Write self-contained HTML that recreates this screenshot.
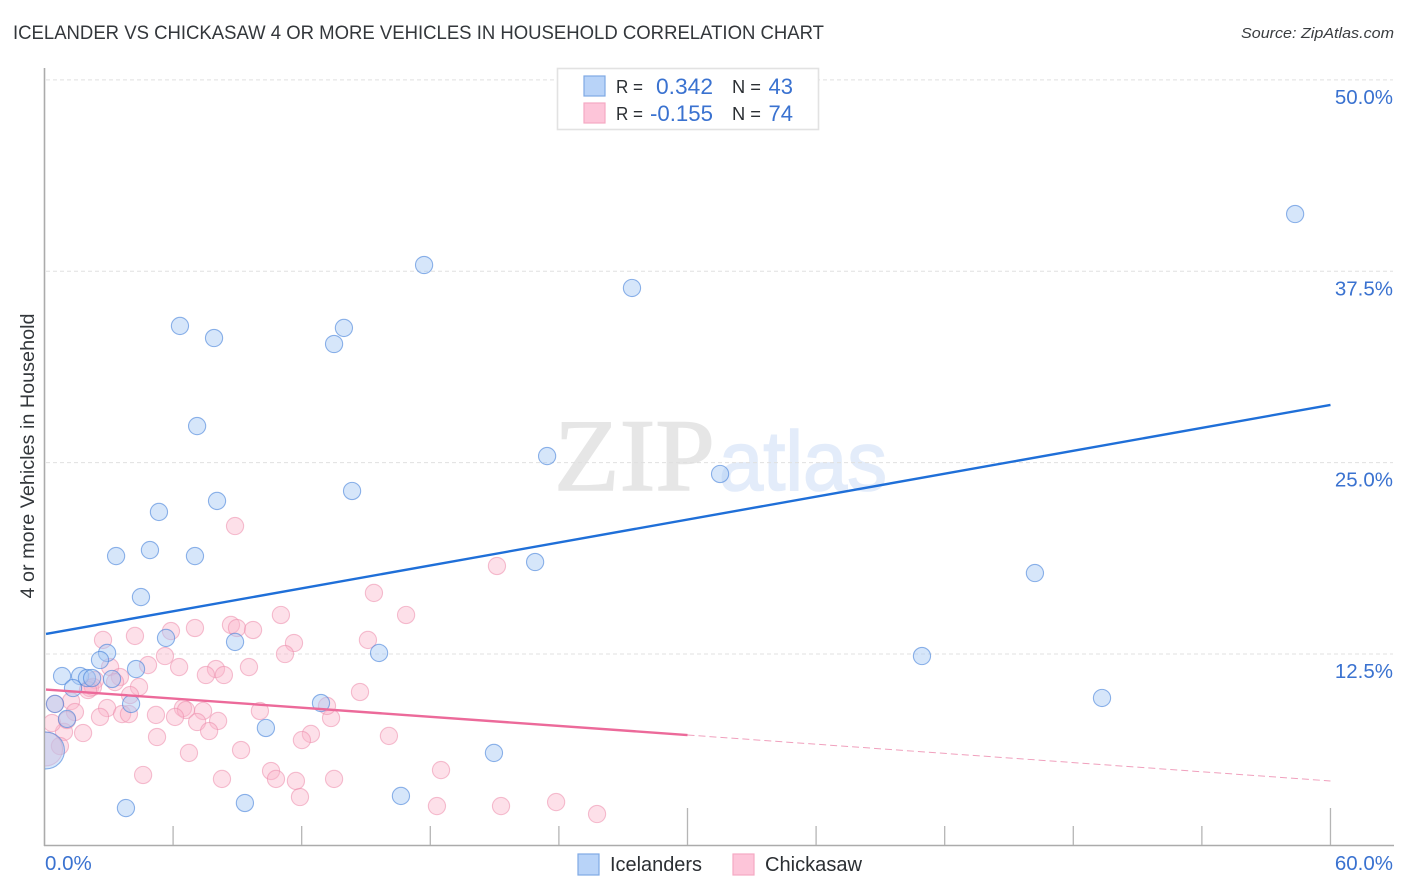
<!DOCTYPE html>
<html lang="en">
<head>
<meta charset="utf-8">
<title>Icelander vs Chickasaw 4 or More Vehicles in Household Correlation Chart</title>
<style>
html,body{margin:0;padding:0;background:#fff;}
body{width:1406px;height:892px;overflow:hidden;}
svg{display:block;font-family:"Liberation Sans",sans-serif;}
</style>
</head>
<body>
<svg id="chart" xmlns="http://www.w3.org/2000/svg" width="1406" height="892" viewBox="0 0 1406 892">
  <defs>
    <clipPath id="plot-clip"><rect x="45" y="60" width="1350" height="785"/></clipPath>
  </defs>
  <rect x="0" y="0" width="1406" height="892" fill="#fff"/>
  <text x="13" y="39" font-size="19" fill="#33373b" textLength="811" lengthAdjust="spacingAndGlyphs">ICELANDER VS CHICKASAW 4 OR MORE VEHICLES IN HOUSEHOLD CORRELATION CHART</text>
  <text x="1394" y="38" font-size="15" font-style="italic" fill="#3a3d40" text-anchor="end" textLength="153" lengthAdjust="spacingAndGlyphs">Source: ZipAtlas.com</text>
  <g>
    <text x="554" y="490" font-family="'Liberation Serif',serif" font-size="103" fill="#e6e6e6" stroke="#e6e6e6" stroke-width="1.4" textLength="161" lengthAdjust="spacingAndGlyphs">ZIP</text>
    <text x="719" y="490" font-family="'Liberation Sans',sans-serif" font-size="84" fill="#e3ecfa" stroke="#e3ecfa" stroke-width="1.6" textLength="168" lengthAdjust="spacingAndGlyphs">atlas</text>
  </g>
  <g id="grid"></g>
  <g id="axes"></g>
  <g id="pink-points" clip-path="url(#plot-clip)"></g>
  <g id="blue-points" clip-path="url(#plot-clip)"></g>
  <g id="trends"></g>
  <g id="ticklabels"></g>
  <text transform="translate(34,456) rotate(-90)" font-size="19" fill="#33373b" text-anchor="middle" textLength="285" lengthAdjust="spacingAndGlyphs">4 or more Vehicles in Household</text>

  <g>
    <rect x="557.5" y="68.5" width="261" height="61" fill="#fff" stroke="#e2e2e2" stroke-width="1.6"/>
    <rect x="584" y="76" width="21" height="20" fill="#b8d3f8" stroke="#7fa9e4" stroke-width="1.2"/>
    <rect x="584" y="103" width="21" height="20" fill="#fdc5d9" stroke="#f5a9c3" stroke-width="1.2"/>
    <text x="616" y="93" font-size="18" fill="#2b2f33" textLength="27" lengthAdjust="spacingAndGlyphs">R =</text>
    <text x="713" y="94" font-size="22" fill="#3a72d0" text-anchor="end" textLength="57" lengthAdjust="spacingAndGlyphs">0.342</text>
    <text x="732" y="93" font-size="18" fill="#2b2f33" textLength="29" lengthAdjust="spacingAndGlyphs">N =</text>
    <text x="793" y="94" font-size="22" fill="#3a72d0" text-anchor="end">43</text>
    <text x="616" y="120" font-size="18" fill="#2b2f33" textLength="27" lengthAdjust="spacingAndGlyphs">R =</text>
    <text x="713" y="121" font-size="22" fill="#3a72d0" text-anchor="end" textLength="63" lengthAdjust="spacingAndGlyphs">-0.155</text>
    <text x="732" y="120" font-size="18" fill="#2b2f33" textLength="29" lengthAdjust="spacingAndGlyphs">N =</text>
    <text x="793" y="121" font-size="22" fill="#3a72d0" text-anchor="end">74</text>
  </g>

  <g>
    <rect x="578" y="854" width="21" height="21" fill="#b8d3f8" stroke="#7fa9e4" stroke-width="1.2"/>
    <text x="610" y="871" font-size="20" fill="#2b2f33" textLength="92" lengthAdjust="spacingAndGlyphs">Icelanders</text>
    <rect x="733" y="854" width="21" height="21" fill="#fdc5d9" stroke="#f5a9c3" stroke-width="1.2"/>
    <text x="765" y="871" font-size="20" fill="#2b2f33" textLength="97" lengthAdjust="spacingAndGlyphs">Chickasaw</text>
  </g>
</svg>
<script>
var blueX = [58.35,17.71,27.41,6.32,13.97,7.91,13.51,7.12,23.45,31.52,14.35,8.05,5.34,4.92,3.34,7.02,22.89,46.21,4.50,5.67,8.89,15.61,40.94,2.92,2.59,4.27,0.82,1.66,1.98,2.22,3.15,1.33,49.34,12.90,0.49,4.04,1.05,10.33,20.97,16.63,9.35,3.80,0.07];
var blueY = [41.24,37.91,36.41,33.93,33.80,33.14,32.75,27.39,25.43,24.26,23.15,22.50,21.78,19.29,18.90,18.90,18.51,17.79,16.22,13.55,13.29,12.57,12.37,12.57,12.11,11.52,11.06,11.06,10.93,10.93,10.87,10.28,9.63,9.30,9.24,9.24,8.26,7.67,6.04,3.23,2.77,2.44,6.20];
var bluePopulation = [1,1,1,1,1,1,1,1,1,1,1,1,1,1,1,1,1,1,1,1,1,1,1,1,1,1,1,1,1,1,1,1,1,1,1,1,1,1,1,1,1,1,4.6];

var pinkX = [11.03,8.70,8.98,9.73,7.02,5.90,4.22,2.73,11.64,11.22,5.62,4.83,6.28,8.00,9.54,7.53,8.37,3.06,3.52,3.29,4.41,2.36,2.12,2.26,3.99,1.24,0.49,2.92,1.42,2.59,3.62,3.94,5.20,6.46,6.60,7.40,6.09,7.12,8.10,7.68,10.05,5.25,0.91,0.35,1.80,1.05,0.72,6.74,9.17,4.60,8.28,10.57,10.80,11.73,11.92,13.51,12.43,12.01,13.37,13.18,8.89,21.11,15.37,16.87,15.09,14.72,16.07,18.50,18.31,21.30,23.87,25.78,2.03,0.05];
var pinkY = [15.05,14.40,14.20,14.07,14.20,14.00,13.68,13.42,13.22,12.50,12.37,11.78,11.65,11.52,11.65,11.13,11.13,11.65,11.00,10.67,10.35,10.80,10.28,10.35,9.82,9.43,9.24,8.97,8.71,8.39,8.58,8.58,8.52,8.97,8.84,8.78,8.39,8.06,8.13,7.47,8.78,7.08,7.41,7.99,7.34,8.19,6.49,6.04,6.23,4.60,4.34,4.86,4.34,4.21,3.16,4.34,7.28,6.88,8.32,9.11,20.86,18.25,16.49,15.05,13.42,10.02,7.15,4.92,2.57,2.57,2.83,2.05,10.15,6.30];
var pinkPopulation = [1,1,1,1,1,1,1,1,1,1,1,1,1,1,1,1,1,1,1,1,1,1,1,1,1,1,1,1,1,1,1,1,1,1,1,1,1,1,1,1,1,1,1,1,1,1,1,1,1,1,1,1,1,1,1,1,1,1,1,1,1,1,1,1,1,1,1,1,1,1,1,1,1,3.9];

var blueTrendX = [0.07, 60];
var blueTrendY = [13.81, 28.77];
var pinkTrendX = [0.07, 30, 60];
var pinkTrendY = [10.18, 7.21, 4.21];

var yTicks = [12.5, 25, 37.5, 50];
var yTickLabels = ['12.5%', '25.0%', '37.5%', '50.0%'];
var xTicks = [0, 6, 12, 18, 24, 30, 36, 42, 48, 54, 60];
var xMajorTicks = [30, 60];
var xEndTicks = [0, 60];
var xEndLabels = ['0.0%', '60.0%'];

function xScale(v) { return 44.5 + v * 21.433; }
function yScale(v) { return 845.4 - v * 15.31; }
function radius(p) { return 8.6 * Math.sqrt(p); }

var NS = 'http://www.w3.org/2000/svg';
function make(tag, attrs) {
  var el = document.createElementNS(NS, tag);
  for (var k in attrs) { el.setAttribute(k, attrs[k]); }
  return el;
}

var grid = document.getElementById('grid');
yTicks.forEach(function (t) {
  var line = make('line', {x1: 46, x2: 1393, y1: yScale(t), y2: yScale(t), stroke: '#e0e0e0', 'stroke-width': 1, 'stroke-dasharray': '4 3'});
  
  
  grid.appendChild(line);
});

var axes = document.getElementById('axes');
var ySpine = make('line', {x1: 44.5, x2: 44.5, y1: 68, y2: 846, stroke: '#ababab', 'stroke-width': 1.6});


axes.appendChild(ySpine);
var xSpine = make('line', {x1: 44, x2: 1394, y1: 845.5, y2: 845.5, stroke: '#ababab', 'stroke-width': 1.6});


axes.appendChild(xSpine);
xTicks.forEach(function (t) {
  if (t === 0) { return; }
  var top = xMajorTicks.indexOf(t) >= 0 ? 808 : 826;
  var tick = make('line', {x1: xScale(t), x2: xScale(t), y1: top, y2: 845, stroke: '#b5b5b5', 'stroke-width': 1.3});
  
  
  axes.appendChild(tick);
});

function drawPoints(groupId, xs, ys, pops, fill, stroke, name) {
  var g = document.getElementById(groupId);
  xs.forEach(function (x, i) {
    var c = make('circle', {cx: xScale(x), cy: yScale(ys[i]), r: radius(pops[i]), fill: fill, stroke: stroke, 'stroke-width': 1.1});
    
    
    g.appendChild(c);
  });
}
drawPoints('pink-points', pinkX, pinkY, pinkPopulation, 'rgba(250,180,203,0.42)', 'rgba(236,140,172,0.55)', 'chickasaw-point');
drawPoints('blue-points', blueX, blueY, bluePopulation, 'rgba(165,200,245,0.46)', 'rgba(70,130,218,0.6)', 'icelanders-point');

var trends = document.getElementById('trends');
var blueLine = make('line', {x1: xScale(blueTrendX[0]), y1: yScale(blueTrendY[0]), x2: xScale(blueTrendX[1]), y2: yScale(blueTrendY[1]), stroke: '#1f6fd8', 'stroke-width': 2.4});


trends.appendChild(blueLine);
var pinkSolid = make('line', {x1: xScale(pinkTrendX[0]), y1: yScale(pinkTrendY[0]), x2: xScale(pinkTrendX[1]), y2: yScale(pinkTrendY[1]), stroke: '#ec6a9a', 'stroke-width': 2.4});


trends.appendChild(pinkSolid);
var pinkDash = make('line', {x1: xScale(pinkTrendX[1]), y1: yScale(pinkTrendY[1]), x2: xScale(pinkTrendX[2]), y2: yScale(pinkTrendY[2]), stroke: '#f0a0bd', 'stroke-width': 1, 'stroke-dasharray': '7 4'});


trends.appendChild(pinkDash);

var labels = document.getElementById('ticklabels');
yTicks.forEach(function (t, i) {
  var txt = make('text', {x: 1393, y: yScale(t) + 24, 'font-size': 20.5, fill: '#3a72d0', 'text-anchor': 'end'});
  
  
  txt.textContent = yTickLabels[i];
  labels.appendChild(txt);
});
xEndTicks.forEach(function (t, i) {
  var isFirst = i === 0;
  var txt = make('text', {x: isFirst ? 45 : 1393, y: 870, 'font-size': 20.5, fill: '#3a72d0', 'text-anchor': isFirst ? 'start' : 'end'});
  
  
  txt.textContent = xEndLabels[i];
  labels.appendChild(txt);
});
</script>
</body>
</html>
